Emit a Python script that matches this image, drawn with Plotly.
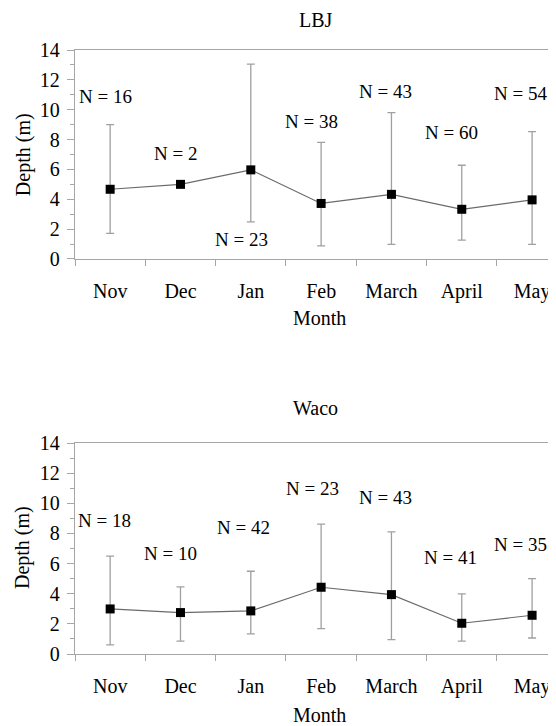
import plotly.graph_objects as go

months = ["Nov", "Dec", "Jan", "Feb", "March", "April", "May"]

# LBJ panel
lbj_mean = [4.67, 5.0, 5.97, 3.72, 4.33, 3.33, 3.96]
lbj_high = [9.0, 5.0, 13.05, 7.81, 9.8, 6.28, 8.53]
lbj_low = [1.72, 5.0, 2.49, 0.88, 0.98, 1.26, 0.98]
lbj_n = [16, 2, 23, 38, 43, 60, 54]
lbj_label_x = [-0.06, 0.93, 1.87, 2.87, 3.91, 4.86, 5.83]
lbj_label_y = [10.88, 7.1, 1.31, 9.21, 11.22, 8.48, 11.1]

# Waco panel
waco_mean = [2.99, 2.75, 2.86, 4.43, 3.94, 2.04, 2.57]
waco_high = [6.49, 4.45, 5.49, 8.62, 8.1, 3.99, 5.0]
waco_low = [0.6, 0.86, 1.33, 1.68, 0.95, 0.86, 1.06]
waco_n = [18, 10, 42, 23, 43, 41, 35]
waco_label_x = [-0.08, 0.86, 1.90, 2.88, 3.91, 4.84, 5.83]
waco_label_y = [8.86, 6.69, 8.42, 10.97, 10.41, 6.42, 7.27]

FONT = "Times New Roman, Liberation Serif, DejaVu Serif, serif"
AXIS_GREY = "#a6a6a6"
ERR_GREY = "#a0a0a0"
LINE_GREY = "#6a6a6a"

fig = go.Figure()


def add_panel(mean, high, low, xa, ya):
    plus = [h - m for h, m in zip(high, mean)]
    minus = [m - l for m, l in zip(mean, low)]
    fig.add_trace(go.Scatter(
        x=months, y=mean, mode="lines+markers",
        xaxis=xa, yaxis=ya,
        line=dict(color=LINE_GREY, width=1.2),
        marker=dict(symbol="square", size=9, color="black"),
        error_y=dict(type="data", symmetric=False, array=plus, arrayminus=minus,
                     color=ERR_GREY, thickness=1.3, width=4),
        showlegend=False, cliponaxis=False,
    ))


add_panel(lbj_mean, lbj_high, lbj_low, "x", "y")
add_panel(waco_mean, waco_high, waco_low, "x2", "y2")

xcommon = dict(
    type="category", categoryorder="array", categoryarray=months,
    range=[-0.5, 6.34], tickson="boundaries", ticks="outside", ticklen=6,
    tickcolor=AXIS_GREY, showline=True, linecolor=AXIS_GREY, linewidth=1.3,
    mirror=True, showgrid=False, zeroline=False,
    tickfont=dict(family=FONT, size=20, color="black"), ticklabelstandoff=14,
)
ycommon = dict(
    range=[0, 14], dtick=2, ticks="outside", ticklen=7, tickcolor=AXIS_GREY,
    showline=True, linecolor=AXIS_GREY, linewidth=1.3, showgrid=False,
    zeroline=False, tickfont=dict(family=FONT, size=20, color="black"),
    ticklabelstandoff=3,
    minor=dict(dtick=1, ticks="outside", ticklen=4, tickcolor=AXIS_GREY, showgrid=False),
)
yinside = dict(
    range=[0, 14], dtick=2, ticks="inside", ticklen=7, tickcolor=AXIS_GREY,
    showline=False, showgrid=False, zeroline=False, showticklabels=False,
)

top_dom = [0.654, 1.0]
bot_dom = [0.0, 0.3493]

# page has an 8px body margin, so the figure is offset by 8px
fig.update_layout(
    width=548, height=718,
    margin=dict(l=67, r=0, t=42, b=72),
    paper_bgcolor="white", plot_bgcolor="white",
    font=dict(family=FONT, color="black"),
    xaxis=dict(**xcommon, domain=[0, 1], anchor="y"),
    yaxis=dict(**ycommon, domain=top_dom, anchor="x"),
    xaxis2=dict(**xcommon, domain=[0, 1], anchor="y2"),
    yaxis2=dict(**ycommon, domain=bot_dom, anchor="x2"),
    yaxis3=dict(**yinside, overlaying="y", anchor="x", side="left"),
    yaxis4=dict(**yinside, overlaying="y2", anchor="x2", side="left"),
)

annotations = []
for n, lx, ly in zip(lbj_n, lbj_label_x, lbj_label_y):
    annotations.append(dict(x=lx, y=ly, xref="x", yref="y", text=f"N = {n}",
                            showarrow=False, font=dict(family=FONT, size=19, color="black")))
for n, lx, ly in zip(waco_n, waco_label_x, waco_label_y):
    annotations.append(dict(x=lx, y=ly, xref="x2", yref="y2", text=f"N = {n}",
                            showarrow=False, font=dict(family=FONT, size=19, color="black")))

text_font = dict(family=FONT, size=20, color="black")
annotations += [
    dict(x=0.501, y=1.049, xref="paper", yref="paper", text="LBJ", showarrow=False,
         font=text_font, yanchor="middle"),
    dict(x=0.501, y=0.407, xref="paper", yref="paper", text="Waco", showarrow=False,
         font=text_font, yanchor="middle"),
    dict(x=0.509, y=0.556, xref="paper", yref="paper", text="Month", showarrow=False,
         font=text_font, yanchor="middle"),
    dict(x=0.509, y=-0.101, xref="paper", yref="paper", text="Month", showarrow=False,
         font=text_font, yanchor="middle"),
    dict(x=-0.108, y=0.826, xref="paper", yref="paper", text="Depth (m)", showarrow=False,
         font=text_font, textangle=-90, xanchor="center", yanchor="middle"),
    dict(x=-0.108, y=0.1755, xref="paper", yref="paper", text="Depth (m)", showarrow=False,
         font=text_font, textangle=-90, xanchor="center", yanchor="middle"),
]
fig.update_layout(annotations=annotations)

fig.write_html("out.html")
